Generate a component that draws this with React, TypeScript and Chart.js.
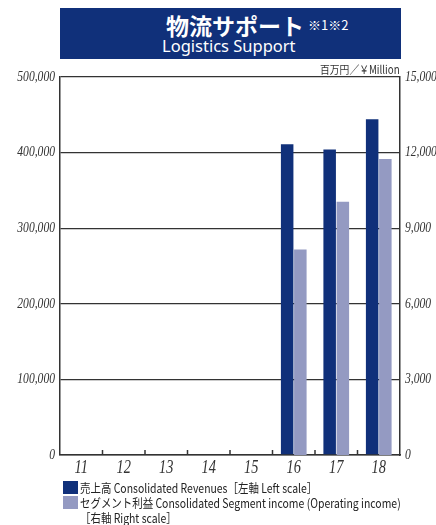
import React, { useEffect, useRef } from "react";
import { Chart, registerables } from "chart.js";

Chart.register(...registerables);

const categories = ["11", "12", "13", "14", "15", "16", "17", "18"];
const revenues = [null, null, null, null, null, 411000, 404000, 444000];
const segmentIncome = [null, null, null, null, null, 8150, 10050, 11750];
const leftMax = 500000;
const leftStep = 100000;
const rightMax = 15000;
const rightStep = 3000;

const NAVY = "#10307a";
const LIGHT = "#949ac2";
const AXIS = "#333333";
const SERIF = "'Liberation Serif', serif";

const fmt = (v: any) => Number(v).toLocaleString("en-US");

const innerTicks = {
  id: "innerTicks",
  afterDraw(chart: any) {
    const x = chart.scales.x;
    const ctx = chart.ctx;
    const bottom = chart.chartArea.bottom;
    ctx.save();
    ctx.strokeStyle = AXIS;
    ctx.lineWidth = 1.5;
    for (let i = 0; i < categories.length - 1; i++) {
      const px = (x.getPixelForValue(i) + x.getPixelForValue(i + 1)) / 2;
      ctx.beginPath();
      ctx.moveTo(px, bottom);
      ctx.lineTo(px, bottom - 5);
      ctx.stroke();
    }
    ctx.restore();
  },
};

// Draws the axis labels in a condensed italic serif, like the original print.
const condensedLabels = {
  id: "condensedLabels",
  afterDraw(chart: any) {
    const ctx = chart.ctx;
    const area = chart.chartArea;
    const drawText = (text: string, px: number, py: number, align: CanvasTextAlign, size: number, sx: number) => {
      ctx.save();
      ctx.translate(px, py);
      ctx.scale(sx, 1);
      ctx.font = `italic ${size}px ${SERIF}`;
      ctx.fillStyle = AXIS;
      ctx.textAlign = align;
      ctx.textBaseline = "middle";
      ctx.fillText(text, 0, 0);
      ctx.restore();
    };
    const y = chart.scales.y;
    y.ticks.forEach((t: any, i: number) => {
      drawText(fmt(t.value), area.left - 5, y.getPixelForTick(i), "right", 14.5, 0.8);
    });
    const y1 = chart.scales.y1;
    y1.ticks.forEach((t: any, i: number) => {
      drawText(fmt(t.value), area.right + 5, y1.getPixelForTick(i), "left", 14.5, 0.8);
    });
    const x = chart.scales.x;
    categories.forEach((c, i) => {
      drawText(c, x.getPixelForValue(i), area.bottom + 13, "center", 18, 0.8);
    });
  },
};

export default function App() {
  const ref = useRef<HTMLCanvasElement>(null);
  useEffect(() => {
    if (!ref.current) return;
    const chart = new Chart(ref.current, {
      type: "bar",
      data: {
        labels: categories,
        datasets: [
          {
            label: "売上高",
            data: revenues as any,
            backgroundColor: NAVY,
            yAxisID: "y",
            categoryPercentage: 0.62,
            barPercentage: 0.95,
          },
          {
            label: "セグメント利益",
            data: segmentIncome as any,
            backgroundColor: LIGHT,
            yAxisID: "y1",
            categoryPercentage: 0.62,
            barPercentage: 0.95,
          },
        ],
      },
      options: {
        animation: false,
        responsive: false,
        maintainAspectRatio: false,
        layout: { padding: { top: 77, left: 0, right: 0, bottom: 0 } },
        plugins: { legend: { display: false }, title: { display: false }, tooltip: { enabled: false } },
        scales: {
          x: {
            grid: { display: false },
            border: { display: true, color: AXIS, width: 1.5 },
            ticks: { display: false },
            afterFit(s: any) {
              s.height = 70;
            },
          },
          y: {
            position: "left",
            min: 0,
            max: leftMax,
            ticks: { stepSize: leftStep, display: false },
            grid: { color: AXIS, lineWidth: 1.3, drawTicks: false },
            border: { display: true, color: AXIS, width: 1.5 },
            afterFit(s: any) {
              s.width = 60;
            },
          },
          y1: {
            position: "right",
            min: 0,
            max: rightMax,
            ticks: { stepSize: rightStep, display: false },
            grid: { display: false, drawTicks: false },
            border: { display: true, color: AXIS, width: 1.5 },
            afterFit(s: any) {
              s.width = 36;
            },
          },
        },
      },
      plugins: [innerTicks, condensedLabels],
    });
    return () => chart.destroy();
  }, []);

  const sans = "'Noto Sans CJK JP', 'Noto Sans', sans-serif";
  return (
    <div style={{ position: "fixed", left: 0, top: 0, width: 436, height: 525, background: "#fff", fontFamily: sans }}>
      <canvas ref={ref} width={436} height={525} style={{ position: "absolute", left: 0, top: 0, width: 436, height: 525 }} />
      <div style={{ position: "absolute", left: 60, top: 8, width: 341, height: 51, background: NAVY }} />
      <div style={{ position: "absolute", left: 166, top: 9, color: "#fff", fontSize: 23, fontWeight: 700, lineHeight: "32px", whiteSpace: "nowrap" }}>
        物流サポート
        <span style={{ fontSize: 13, fontWeight: 400, verticalAlign: "top", position: "relative", top: 0, marginLeft: 4 }}>※1※2</span>
      </div>
      <div style={{ position: "absolute", left: 162, top: 35, color: "#fff", fontSize: 16.5, fontFamily: "'Noto Sans', sans-serif", lineHeight: "22px", whiteSpace: "nowrap" }}>
        Logistics Support
      </div>
      <div style={{ position: "absolute", right: 36, top: 62, color: "#333", fontSize: 11.5, lineHeight: "14px", whiteSpace: "nowrap", transform: "scaleX(0.85)", transformOrigin: "right center" }}>
        百万円／￥Million
      </div>
      <div style={{ position: "absolute", left: 63, top: 481, width: 15, height: 13, background: NAVY }} />
      <div style={{ position: "absolute", left: 63, top: 496, width: 15, height: 13, background: LIGHT }} />
      <div style={{ position: "absolute", left: 80, top: 480, color: "#222", fontSize: 12.5, lineHeight: "15px", whiteSpace: "nowrap", transform: "scaleX(0.835)", transformOrigin: "left center" }}>
        <div>売上高 Consolidated Revenues［左軸 Left scale］</div>
        <div>セグメント利益 Consolidated Segment income (Operating income)</div>
        <div>［右軸 Right scale］</div>
      </div>
    </div>
  );
}
